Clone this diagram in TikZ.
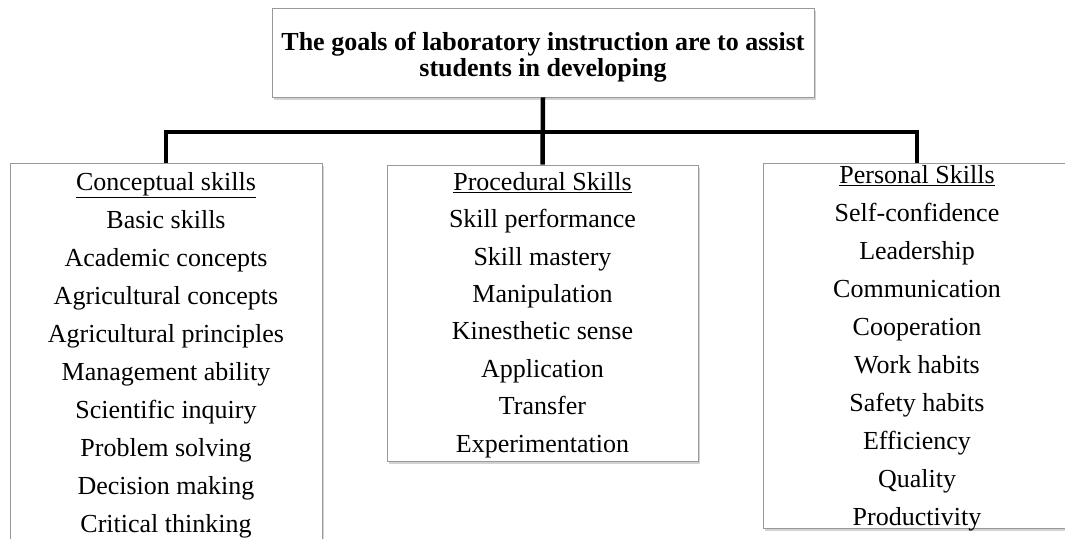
\documentclass[tikz,border=0pt]{standalone}
\usepackage{fontspec}
\setmainfont{Liberation Serif}
\usetikzlibrary{positioning,shadows}

\tikzset{
  goalbox/.style={draw=black!40,fill=white,line width=0.9pt,inner sep=0pt,align=flush center,
    drop shadow={shadow xshift=2pt,shadow yshift=-2.5pt,opacity=0.35}},
  skillbox/.style={goalbox,font=\fontsize{26}{38}\selectfont},
  link/.style={line width=4.5pt}
}
\newcommand{\topstrut}[1]{\rule{0pt}{#1}}

\begin{document}
\begin{tikzpicture}[x=1pt,y=-1pt]
        \useasboundingbox (0,0) rectangle (1065,538);
        \clip (0,0) rectangle (1065,538);
        % goal on top
        \node[goalbox,font=\bfseries\fontsize{26}{26.6}\selectfont,text width=542pt,minimum height=89pt] (goal) at (543,52.5)
          {\topstrut{28pt}The goals of laboratory instruction are to assist\\students in developing};
        % the three groups of skills
        \node[skillbox,text width=312pt,minimum height=381pt] (concept) at (166,353.5)
          {\topstrut{22pt}\underline{Conceptual skills}\\Basic skills\\Academic concepts\\Agricultural concepts\\Agricultural principles\\
           Management ability\\Scientific inquiry\\Problem solving\\Decision making\\Critical thinking};
        \node[skillbox,font=\fontsize{26}{37.4}\selectfont,text width=311pt,minimum height=296pt] (procedure) at (542.5,313)
          {\topstrut{22pt}\underline{Procedural Skills}\\Skill performance\\Skill mastery\\Manipulation\\Kinesthetic sense\\
           Application\\Transfer\\Experimentation};
        \node[skillbox,inner ysep=-4pt,text width=308pt,minimum height=365pt] (personal) at (917,345.5)
          {\topstrut{24pt}\underline{Personal Skills}\\Self-confidence\\Leadership\\Communication\\Cooperation\\Work habits\\
           Safety habits\\Efficiency\\Quality\\Productivity};
        % connectors
        \coordinate (bar) at (543,132);
        \draw[link] (goal.south) -- (procedure.north);
        \draw[link] (concept.north) |- (bar) -| (personal.north);
      \end{tikzpicture}
\end{document}
